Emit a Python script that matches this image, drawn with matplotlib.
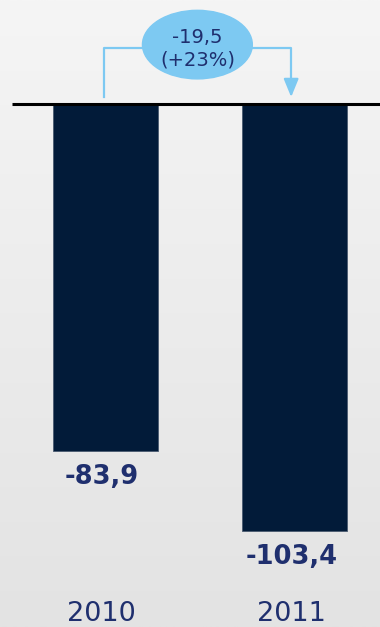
import numpy as np
import matplotlib.pyplot as plt
from matplotlib.colors import LinearSegmentedColormap
from matplotlib.patches import Ellipse

years = ['2010', '2011']
values = [-83.9, -103.4]
value_labels = ['-83,9', '-103,4']
delta_label = '-19,5\n(+23%)'

BAR_COLOR = '#021b39'
TEXT_COLOR = '#1f2f6e'
ACCENT = '#7dc9f2'

fig = plt.figure(figsize=(3.8, 6.27), dpi=100)

# background gradient
bg = fig.add_axes([0, 0, 1, 1], zorder=0)
grad = np.linspace(0, 1, 256).reshape(-1, 1)
bg.imshow(grad, aspect='auto', extent=[0, 1, 0, 1],
          cmap=LinearSegmentedColormap.from_list('bg', ['#f5f5f5', '#e3e3e3']))
bg.axis('off')

ax = fig.add_axes([0, 0, 1, 1], zorder=1)
ax.patch.set_alpha(0)
x = np.arange(len(years))
ax.bar(x, values, width=0.554, color=BAR_COLOR, edgecolor='#4a5a70',
       linewidth=0.6, zorder=2)
ax.set_xlim(-0.557, 1.449)
ax.set_ylim(-126.6, 25.2)
ax.axis('off')

# baseline
ax.plot([-0.494, 1.449], [0, 0], color='black', linewidth=2.2, zorder=3,
        solid_capstyle='butt')

# value labels
for xi, v, lab in zip(x, values, value_labels):
    ax.text(xi - 0.02, v - 3.2, lab, ha='center', va='top', fontsize=18.5,
            fontweight='bold', color=TEXT_COLOR)

# year labels
for xi, yr in zip(x, years):
    ax.text(xi - 0.02, -120.2, yr, ha='center', va='top', fontsize=19.5,
            color=TEXT_COLOR)

# change bracket
y_top = 13.6
ax.plot([-0.01, -0.01, 0.98, 0.98], [1.7, y_top, y_top, 5.5],
        color=ACCENT, linewidth=1.6, zorder=3)
ax.annotate('', xy=(0.98, 1.7), xytext=(0.98, 6.0),
            arrowprops=dict(arrowstyle='-|>,head_length=1.1,head_width=0.45',
                            color=ACCENT, lw=1.6, shrinkA=0, shrinkB=0), zorder=3)
ell = Ellipse((0.485, 14.4), width=0.58, height=16.6, color=ACCENT, zorder=4)
ax.add_patch(ell)
ax.text(0.485, 13.4, delta_label, ha='center', va='center', fontsize=14,
        color=TEXT_COLOR, linespacing=1.2, zorder=5)

fig.savefig('out.png', dpi=100)
